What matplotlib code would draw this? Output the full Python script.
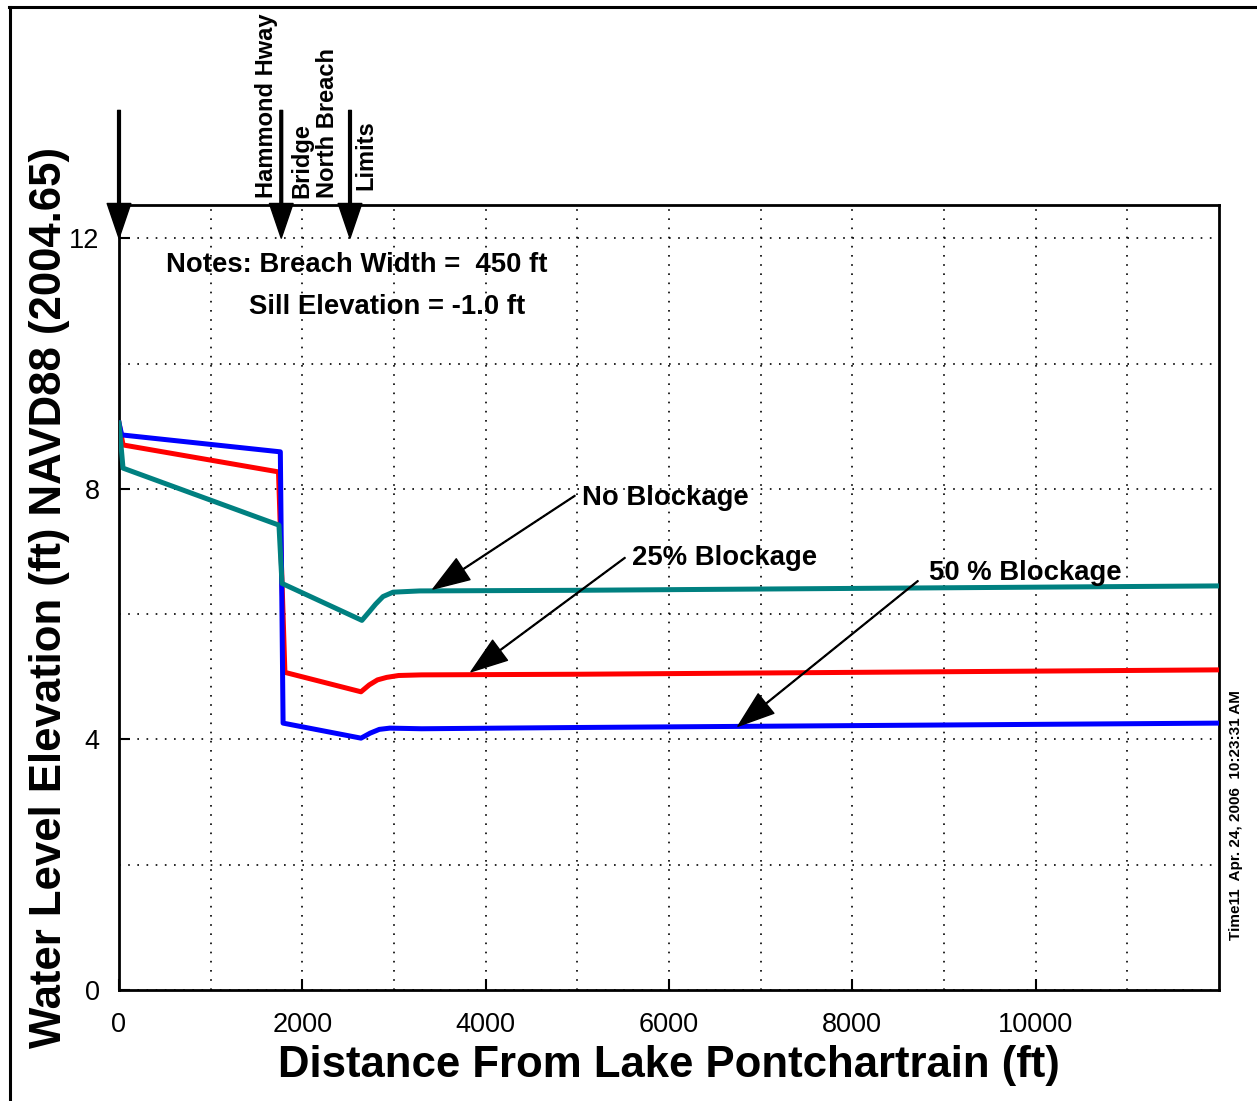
import matplotlib
matplotlib.use("Agg")
import matplotlib.pyplot as plt
from matplotlib.lines import Line2D

plt.rcParams['font.family'] = ['Liberation Sans', 'DejaVu Sans']

# ---- data ----
dist_no = [0, 44, 1745, 1778, 2650, 2720, 2800, 2880, 2990, 3280, 5000, 7000, 9000, 12000]
wl_no = [9.05, 8.33, 7.42, 6.49, 5.90, 6.02, 6.16, 6.28, 6.35, 6.37, 6.38, 6.40, 6.42, 6.45]

dist_25 = [0, 44, 1740, 1810, 2640, 2730, 2820, 2920, 3050, 3300, 5000, 8000, 12000]
wl_25 = [9.05, 8.70, 8.27, 5.07, 4.76, 4.87, 4.95, 4.99, 5.02, 5.03, 5.04, 5.07, 5.11]

dist_50 = [0, 30, 1760, 1790, 2640, 2740, 2840, 2955, 3300, 5000, 7000, 9000, 12000]
wl_50 = [9.05, 8.86, 8.59, 4.26, 4.02, 4.10, 4.16, 4.18, 4.17, 4.19, 4.21, 4.23, 4.26]

x_major = [0, 2000, 4000, 6000, 8000, 10000]
y_major = [0, 4, 8, 12]
x_minor = [1000, 3000, 5000, 7000, 9000, 11000]
y_minor = [2, 6, 10]

marker_x = [0, 1770, 2520]
marker_labels = ["Hammond Hway", "Bridge", "North Breach", "Limits"]

fig = plt.figure(figsize=(12.57, 11.01), dpi=100)
ax = fig.add_axes([119/1257, 1-990/1101, 1100/1257, 785/1101])

ax.plot(dist_25, wl_25, color='#ff0000', lw=3.6, solid_joinstyle='round', zorder=3)
ax.plot(dist_50, wl_50, color='#0000ff', lw=3.6, solid_joinstyle='round', zorder=4)
ax.plot(dist_no, wl_no, color='#008080', lw=3.6, solid_joinstyle='round', zorder=5)

ax.set_xlim(0, 12000)
ax.set_ylim(0, 12.53)
ax.set_xticks(x_major)
ax.set_yticks(y_major)
ax.set_xticks(x_minor, minor=True)
ax.set_yticks(y_minor, minor=True)
ax.tick_params(which='major', direction='in', length=8, width=1.5, labelsize=19.5)
ax.tick_params(axis='x', which='major', pad=16)
ax.tick_params(axis='y', which='major', pad=14)
ax.tick_params(which='minor', length=0)
ax.grid(True, which='both', color='black', lw=1.2, linestyle=(0, (1, 4.5)))
for s in ax.spines.values():
    s.set_linewidth(2.0)

# Notes
ax.text(513, 11.57, "Notes: Breach Width =  450 ft", fontsize=19.8, fontweight='bold',
        ha='left', va='center')
ax.text(1418, 10.90, "Sill Elevation = -1.0 ft", fontsize=19.8, fontweight='bold',
        ha='left', va='center')

# series annotations
ann = [("No Blockage", (3425, 6.40), (4974, 7.89), (5051, 7.86)),
       ("25% Blockage", (3840, 5.08), (5520, 6.90), (5596, 6.90)),
       ("50 % Blockage", (6752, 4.21), (8716, 6.53), (8836, 6.66))]
for lab, tip, start, tpos in ann:
    ax.annotate('', xy=tip, xytext=start,
                arrowprops=dict(facecolor='black', edgecolor='black', width=0.6,
                                headwidth=18, headlength=26, shrink=0), zorder=6)
    ax.text(tpos[0], tpos[1], lab, fontsize=19.8, fontweight='bold', ha='left', va='center', zorder=7)

# location markers at top
for xm in marker_x:
    ax.annotate('', xy=(xm, 12.0), xytext=(xm, 14.04),
                arrowprops=dict(facecolor='black', edgecolor='black', width=2.0,
                                headwidth=17, headlength=25, shrink=0),
                annotation_clip=False, zorder=8)
lab_pos = [(1604, 12.64), (1996, 12.64), (2280, 12.64), (2694, 12.77)]
for lab, (lx, ly) in zip(marker_labels, lab_pos):
    ax.text(lx, ly, lab, rotation=90, fontsize=17, fontweight='bold',
            ha='center', va='bottom', clip_on=False)

# axis labels
fig.text(50/1257, 1-598/1101, "Water Level Elevation (ft) NAVD88 (2004.65)",
         rotation=90, fontsize=31.5, fontweight='bold', ha='center', va='center')
fig.text(669/1257, 1-1066/1101, "Distance From Lake Pontchartrain (ft)",
         fontsize=31.5, fontweight='bold', ha='center', va='center')
fig.text(1236/1257, 1-815/1101, "Time11  Apr. 24, 2006  10:23:31 AM",
         rotation=90, fontsize=11, fontweight='bold', ha='center', va='center')

# outer frame (top and left)
fig.add_artist(Line2D([9/1257, 1], [1-7/1101, 1-7/1101], color='black', lw=2.2,
                      transform=fig.transFigure))
fig.add_artist(Line2D([10/1257, 10/1257], [0, 1-7/1101], color='black', lw=2.2,
                      transform=fig.transFigure))

fig.savefig("out.png", dpi=100)
